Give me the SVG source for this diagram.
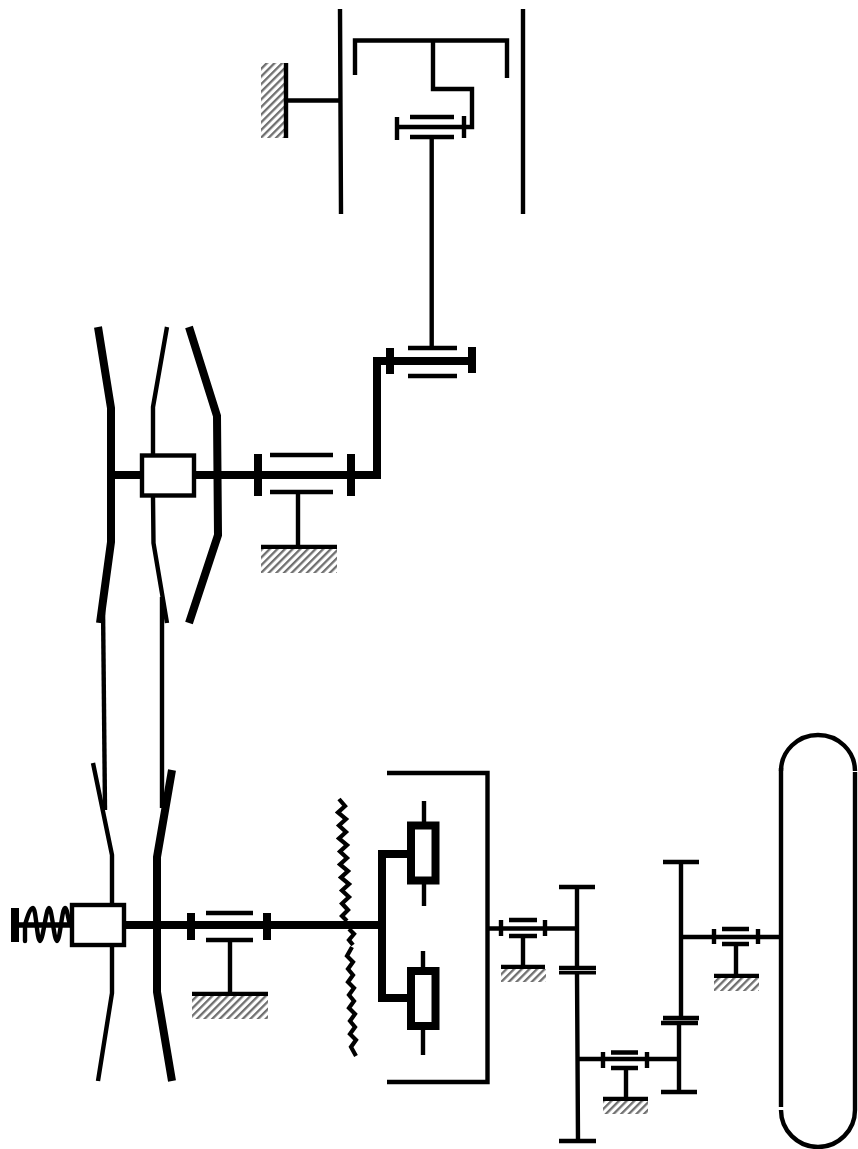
<svg xmlns="http://www.w3.org/2000/svg" width="858" height="1149" viewBox="0 0 858 1149">
<style>
path,rect.o{fill:none;stroke:#000;stroke-linecap:butt;stroke-linejoin:miter}
.t3{stroke-width:4.2px}.t4{stroke-width:4.4px}.t8{stroke-width:8px}
rect.o{fill:#fff}
rect.h{fill:url(#hatch)}
</style>
<defs>
<pattern id="hatch" width="5.4" height="5.4" patternUnits="userSpaceOnUse" patternTransform="rotate(45)">
<rect width="5.4" height="5.4" fill="#fff"/>
<rect width="2.300" height="5.4" fill="#707070"/>
</pattern>
</defs>
<rect width="858" height="1149" fill="#fff"/>

<g id="connectors">
<path class="t4" d="M431.7 137V347"/>
<path class="t4" d="M103 605L105 810"/>
<path class="t4" d="M162 597V808"/>
<path class="t8" d="M107 475H142M194 475H377M377 479V357M373 361H472"/>
<path class="t8" d="M126 925H382"/>
<path class="t8" d="M12 925H72" style="stroke-width:5.500px"/>
<path class="t4" d="M487 928.500H577"/>
<path class="t4" d="M578 1059H680"/>
<path class="t4" d="M681 937H781"/>
</g>

<g id="ring-gear-top">
<rect class="h" x="261" y="63" width="24" height="75"/>
<path class="t4" d="M286 63V138M286 100.500H340M340 9L341 214M523 9V214"/>
</g>
<g id="planet-carrier-top">
<path class="t4" d="M355 75V40.500H507V78M433 40.500V89H472V127H397"/>
<path class="t4" d="M397 117V140M464 116V138M410 117H454M410 137H454"/>
</g>
<g id="bearing-upper">
<path class="t8" d="M390 348V374M472 347V373"/>
<path class="t4" d="M408 348H457M408 376H457"/>
</g>
<g id="pulley-upper">
<path class="t8" d="M98 327L111 408V542L100 623"/>
<path class="t4" d="M167 327L153 407V455M153 497L153.500 543L167 623"/>
<path class="t8" d="M189 327L217 416L218 535L189 623"/>
</g>
<g id="hub-upper"><rect class="o t4" x="142" y="455.500" width="52" height="40"/></g>
<g id="bearing-mid">
<path class="t8" d="M258 454V496M351 454V496"/>
<path class="t4" d="M270 455H333M270 492H333M298 492V547M261 547H337"/>
<rect class="h" x="261" y="549" width="76" height="24"/>
</g>
<g id="pulley-lower">
<path class="t4" d="M93 763L112 855V905M112 947V993L98 1081"/>
<path class="t8" d="M172 770L157 857V992L172 1081"/>
</g>
<g id="spring">
<path class="t8" d="M15 908V942"/>
<path class="t4" style="stroke-linecap:round" d="M25 941V925C27 918 30 908 33 908C36 908 37 941 40 941C43 941 46 908 49 908C52 908 54 941 57 941C60 941 62 908 65 908C67 908 68 918 70 925"/>
</g>
<g id="hub-lower"><rect class="o t4" x="72" y="905" width="52" height="40"/></g>
<g id="bearing-left">
<path class="t8" d="M191 913V940M267 913V940"/>
<path class="t4" d="M206 913H253M206 940H253M230 940V994M192 994H268"/>
<rect class="h" x="192" y="996" width="76" height="23"/>
</g>
<g id="friction-disc">
<path class="t3" d="M339 799L345 806L338 812.500L346 819L339 825.500L346 832L339 838.500L347 845L340 851.500L347 858L340 864.500L348 871L341 877.500L349 884L342 890.500L349 897L342 903.500L348 910L342 916L347 921"/>
<path class="t3" d="M349 929L354 934L349 940L353 945"/>
<path class="t3" d="M352 947L347 956L353 962L348 969L353 975L348 982L354 988L349 995L354 1001L349 1008L355 1014L350 1021L355 1027L350 1034L356 1040L351 1047L356 1056"/>
</g>
<g id="clutch">
<path class="t8" d="M382 925V850M378 854H411M382 925V1002M378 998H411"/>
<rect class="o t8" x="411" y="825.500" width="24.500" height="55"/>
<rect class="o t8" x="411" y="971" width="24.500" height="55"/>
<path class="t4" d="M424 801V822M424 884V906M423 951V967M423 1029V1055"/>
</g>
<g id="clutch-housing">
<path class="t4" d="M387 773H487.500V1082H387"/>
</g>
<g id="bearing-a">
<path class="t4" d="M501 920V936M545 920V936M509 920H537M509 936H537M523 936V967M501 967H545"/>
<rect class="h" x="501" y="969" width="45" height="13"/>
</g>
<g id="gear-a">
<path class="t4" d="M559 887H595M577 887V969M559 968H596"/>
<path class="t3" style="stroke-width:3.400px" d="M559 972.800H596"/>
<path class="t4" d="M577 972L578 1141M559 1141H596"/>
</g>
<g id="bearing-b">
<path class="t4" d="M603 1052V1068M647 1052V1068M611 1052.500H638M611 1068H638M626 1068V1099M603 1099H648"/>
<rect class="h" x="603" y="1101" width="45" height="13"/>
</g>
<g id="gear-b">
<path class="t4" d="M663 862H699M681 862V1018M663 1018H699M661 1023H698M679 1023V1092M661 1092H697"/>
</g>
<g id="bearing-c">
<path class="t4" d="M714 929V944M758 929V944M722 929H749M722 944H749M736 944V975M714 976H759"/>
<rect class="h" x="714" y="978" width="45" height="13"/>
</g>
<g id="wheel">
<path class="t4" d="M781 768V1107M855 772V1110"/>
<path class="t4" d="M781 771A37 36 0 0 1 855 771"/>
<path class="t4" d="M781 1110A37 37 0 0 0 855 1110"/>
</g>
</svg>
